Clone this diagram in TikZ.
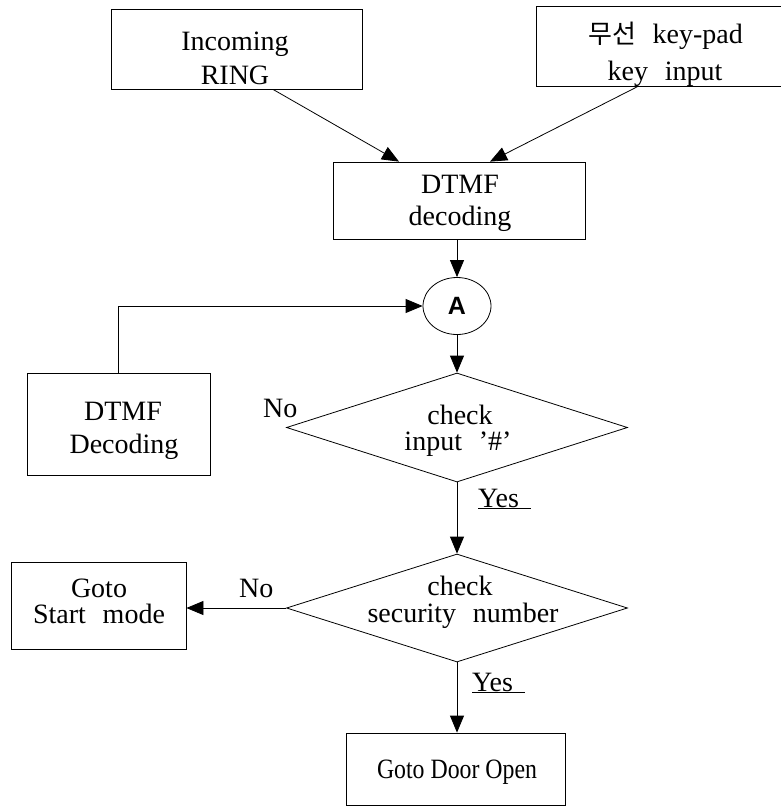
\documentclass[tikz,border=0pt]{standalone}
\usepackage{fontspec}
\usepackage{graphicx}
\setmainfont{Liberation Serif}
\newfontfamily\krfont{Noto Sans CJK KR}
\newfontfamily\sansbold{Liberation Sans}
\usetikzlibrary{shapes.geometric,arrows.meta}
\tikzset{
  box/.style={draw, line width=0.8pt, rectangle, inner sep=0pt},
  dia/.style={draw, line width=0.8pt, diamond, inner sep=0pt},
  txt/.style={inner sep=0pt, font=\fontsize{28}{28}\selectfont},
  lbl/.style={txt, anchor=base},
  lblw/.style={txt, anchor=base west},
  flow/.style={line width=0.8pt, -{Triangle[length=17pt,width=14pt]}},
}
\newcommand{\wsp}{\hspace{0.6em}}
\begin{document}
\begin{tikzpicture}[x=1pt,y=-1pt]
\useasboundingbox (0,0) rectangle (781,807);
\clip (0,0) rectangle (781,807);
\fill[white] (0,0) rectangle (781,807);

% shapes
\node[box, minimum width=251pt, minimum height=80pt] (inc) at (236.5,49) {};
\node[box, minimum width=264pt, minimum height=80pt] (kp) at (668,46) {};
\node[box, minimum width=252pt, minimum height=77pt] (dt) at (459,200.5) {};
\node[draw, line width=0.8pt, ellipse, inner sep=0pt, minimum width=68pt, minimum height=57pt] (A) at (457,306) {};
\node[dia, minimum width=341pt, minimum height=109pt] (d1) at (457,427.5) {};
\node[box, minimum width=183pt, minimum height=102pt] (ls) at (118.5,424) {};
\node[dia, minimum width=341pt, minimum height=108pt] (d2) at (457,608) {};
\node[box, minimum width=175pt, minimum height=87pt] (gs) at (98.5,605.5) {};
\node[box, minimum width=219pt, minimum height=72pt] (go) at (455.5,769) {};

% texts
\node[lbl] (t1a) at (235,50) {Incoming};
\node[lbl] (t1b) at (235,84) {RING};
\node[lbl] (t2a) at (665.5,43) {{\krfont\fontsize{26}{26}\selectfont 무선}\wsp key-pad};
\node[lbl] (t2b) at (665,80) {key\wsp input};
\node[lbl] (t3a) at (460,193) {DTMF};
\node[lbl] (t3b) at (460,225) {decoding};
\node[inner sep=0pt, font=\sansbold\bfseries\fontsize{25}{25}\selectfont] (tA) at (A.center) {A};
\node[lbl] (t4a) at (460,424) {check};
\node[lbl] (t4b) at (458,450) {input\wsp '\#'};
\node[lblw] (no1) at (263,417) {No};
\node[lbl] (t5a) at (123,420) {DTMF};
\node[lbl] (t5b) at (124,453) {Decoding};
\node[lblw] (yes1) at (478,507) {\underline{Yes\hspace{12pt}}};
\node[lbl] (t6a) at (460,595) {check};
\node[lbl] (t6b) at (463,622) {security\wsp number};
\node[lblw] (no2) at (239,597) {No};
\node[lbl] (t7a) at (99,597) {Goto};
\node[lbl] (t7b) at (99,623) {Start\wsp mode};
\node[lblw] (yes2) at (472,691) {\underline{Yes\hspace{12pt}}};
\node[lbl] (t8) at (457,778) {\scalebox{0.85}[1]{Goto Door Open}};

% connectors
\draw[flow] ([xshift=36.5pt]inc.south) -- ([xshift=-60pt]dt.north);
\draw[flow] ([xshift=-30pt]kp.south) -- ([xshift=31pt]dt.north);
\draw[flow] (dt.south -| A.north) -- (A.north);
\draw[flow] (A.south) -- (d1.north);
\draw[flow] (ls.north) |- (A.west);
\draw[flow] (d1.south) -- (d2.north);
\draw[flow] (d2.west) -- (d2.west -| gs.east);
\draw[flow] (d2.south) -- (d2.south |- go.north);
\end{tikzpicture}
\end{document}
